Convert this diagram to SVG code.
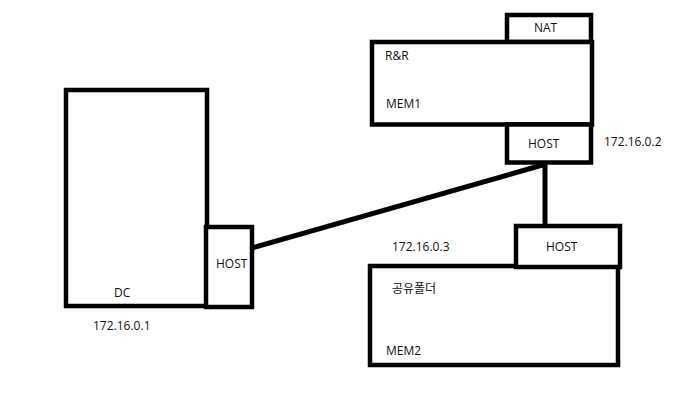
<svg xmlns="http://www.w3.org/2000/svg" width="679" height="401" viewBox="0 0 679 401">
<style>
.box{fill:#fff;stroke:#000;stroke-width:4.5}
.lbl{font-family:"Open Sans","Noto Sans","Noto Sans CJK KR",sans-serif;font-size:12px;fill:#111}
.conn{stroke:#000;stroke-width:5;fill:none}
</style>
<rect width="679" height="401" fill="#fff"/>
<g id="connectors">
<line class="conn" x1="252" y1="248" x2="546" y2="164"/>
<line class="conn" x1="545" y1="162" x2="545" y2="226"/>
</g>
<g id="nat">
<rect class="box" x="507" y="15" width="84" height="27"/>
<text class="lbl" x="534" y="32">NAT</text>
</g>
<g id="mem1">
<rect class="box" x="372" y="42" width="220" height="82.5"/>
<text class="lbl" x="385" y="60">R&amp;R</text>
<text class="lbl" x="386" y="108">MEM1</text>
</g>
<g id="host1">
<rect class="box" x="507" y="124.5" width="84" height="38"/>
<text class="lbl" x="528" y="148">HOST</text>
</g>
<text class="lbl" x="604" y="146">172.16.0.2</text>
<g id="dc">
<rect class="box" x="66" y="90" width="141" height="216"/>
<text class="lbl" x="114" y="297">DC</text>
</g>
<g id="host-dc">
<rect class="box" x="206" y="227" width="46" height="80"/>
<text class="lbl" x="216" y="268">HOST</text>
</g>
<text class="lbl" x="93" y="330">172.16.0.1</text>
<g id="mem2">
<rect class="box" x="370" y="266" width="248" height="99"/>
<text class="lbl" x="392" y="293">공유폴더</text>
<text class="lbl" x="386" y="355">MEM2</text>
</g>
<g id="host2">
<rect class="box" x="516" y="226" width="104" height="41"/>
<text class="lbl" x="546" y="251">HOST</text>
</g>
<text class="lbl" x="392" y="251">172.16.0.3</text>
</svg>
